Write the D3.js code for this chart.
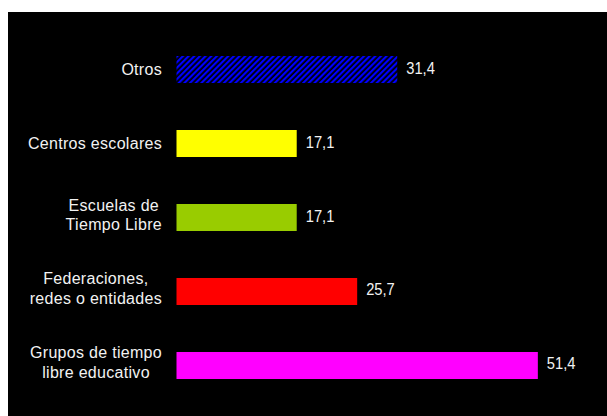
<!DOCTYPE html>
<html>
<head>
<meta charset="utf-8">
<script src="https://cdn.jsdelivr.net/npm/d3@7"></script>
<style>
html, body { margin: 0; padding: 0; background: #ffffff; }
svg { display: block; }
</style>
</head>
<body>
<svg id="chart" width="607" height="416"></svg>
<script>
// Data
const categories = ["Otros", "Centros escolares", "Escuelas de Tiempo Libre", "Federaciones, redes o entidades", "Grupos de tiempo libre educativo"];
const labelLines = [["Otros"], ["Centros escolares"], ["Escuelas de", "Tiempo Libre"], ["Federaciones,", "redes o entidades"], ["Grupos de tiempo", "libre educativo"]];
const values = [31.4, 17.1, 17.1, 25.7, 51.4];
const valueLabels = ["31,4", "17,1", "17,1", "25,7", "51,4"];
const colors = ["url(#hatch)", "#FFFF00", "#99CC00", "#FF0000", "#FF00FF"];

const svg = d3.select("#chart");
const W = 607, H = 416;

// background panel
svg.append("rect").attr("x", 8).attr("y", 12).attr("width", W - 8).attr("height", H - 12).attr("fill", "#000000");

// hatch pattern
const defs = svg.append("defs");
const pat = defs.append("pattern").attr("id", "hatch").attr("patternUnits", "userSpaceOnUse")
  .attr("width", 4).attr("height", 4).attr("patternTransform", "rotate(45)");
pat.append("rect").attr("width", 4).attr("height", 4).attr("fill", "#000000");
pat.append("rect").attr("width", 2.2).attr("height", 4).attr("fill", "#0000FF");

const x = d3.scaleLinear().domain([0, 60]).range([176.5, 176.5 + 60 * 7.03]);
const y = d3.scaleBand().domain(categories).range([32.5, 402.5]).paddingInner(0.635).paddingOuter(0.3176);

const font = "'Liberation Sans', Arial, sans-serif";
const fs = 16;
const textColor = "#f2f2f2";

// bars
svg.append("g").selectAll("rect").data(categories).join("rect")
  .attr("x", x(0))
  .attr("y", d => y(d))
  .attr("width", (d, i) => x(values[i]) - x(0))
  .attr("height", y.bandwidth())
  .attr("fill", (d, i) => colors[i]);

// value labels
svg.append("g").selectAll("text").data(categories).join("text")
  .attr("transform", (d, i) => `translate(${x(values[i]) + 9},${y(d) + y.bandwidth() / 2 + 4}) scale(0.92,1)`)
  .attr("font-family", font).attr("font-size", fs).attr("fill", textColor)
  .text((d, i) => valueLabels[i]);

// category labels (centered block, right aligned)
const rightEdge = 162;
categories.forEach((c, i) => {
  const lines = labelLines[i];
  const cy = y(c) + y.bandwidth() / 2;
  const g = svg.append("g");
  const texts = lines.map((ln, j) => {
    const base = lines.length === 1 ? cy + 5 : cy - 7 + j * 19.5;
    return g.append("text")
      .attr("font-family", font).attr("font-size", fs).attr("fill", textColor)
      .attr("letter-spacing", 0.3)
      .attr("text-anchor", "middle")
      .attr("data-base", base)
      .text(ln);
  });
  const widths = texts.map(t => t.node().getComputedTextLength());
  const bw = d3.max(widths);
  const cx = rightEdge - bw / 2;
  texts.forEach(t => t.attr("transform", `translate(${cx},${+t.attr("data-base")})`));
});
</script>
</body>
</html>
